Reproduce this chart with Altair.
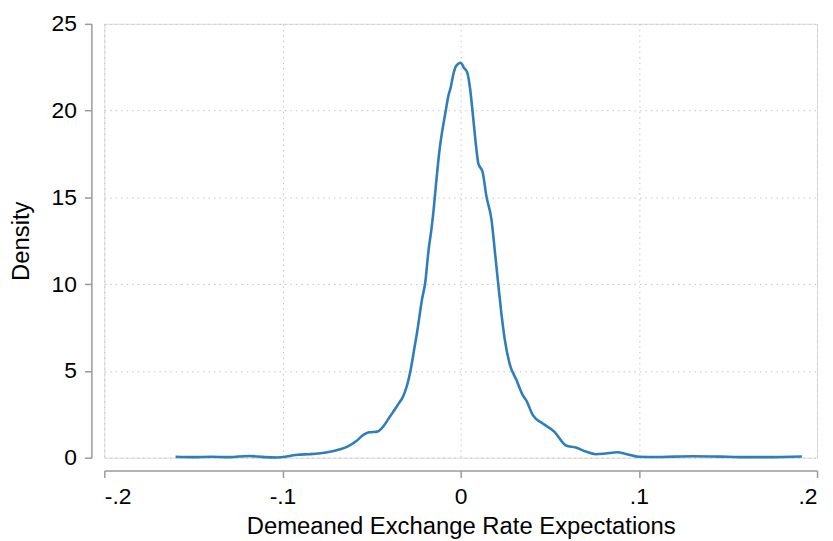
import altair as alt
import pandas as pd

# Kernel density of demeaned exchange rate expectations
x_vals = [-0.160, -0.150, -0.140, -0.130, -0.119, -0.110, -0.103, -0.097, -0.0914,
          -0.085, -0.0747, -0.0672, -0.0635, -0.0589, -0.0542, -0.0514, -0.0468,
          -0.044, -0.0394, -0.0357, -0.032, -0.030, -0.028, -0.026, -0.0245,
          -0.0217, -0.0199, -0.018, -0.0165, -0.0152, -0.0138, -0.0119, -0.0106,
          -0.0087, -0.0069, -0.0056, -0.0041, -0.0026, 0.0, 0.0018, 0.0037, 0.0052,
          0.007, 0.0089, 0.0099, 0.0123, 0.0145, 0.0173, 0.0191, 0.021, 0.0228,
          0.0247, 0.0275, 0.0312, 0.0349, 0.0368, 0.0405, 0.0461, 0.0525, 0.0591,
          0.0646, 0.0702, 0.0758, 0.0813, 0.0879, 0.0934, 0.100, 0.110, 0.120,
          0.130, 0.140, 0.150, 0.160, 0.170, 0.180, 0.1915]
density = [0.05, 0.03, 0.05, 0.03, 0.10, 0.03, 0.01, 0.08, 0.17,
           0.20, 0.31, 0.50, 0.64, 0.93, 1.34, 1.46, 1.50,
           1.73, 2.41, 2.98, 3.60, 4.20, 5.10, 6.30, 7.20,
           9.12, 10.08, 11.98, 13.10, 14.27, 15.80, 17.70, 18.66,
           19.80, 20.85, 21.33, 22.10, 22.57, 22.76, 22.47, 22.19, 21.33,
           19.61, 17.70, 16.95, 16.46, 15.03, 13.70, 11.98, 10.08, 8.36,
           6.84, 5.40, 4.50, 3.59, 3.30, 2.45, 1.97, 1.50, 0.70,
           0.58, 0.35, 0.20, 0.24, 0.31, 0.20, 0.05, 0.04, 0.06,
           0.08, 0.07, 0.05, 0.03, 0.03, 0.04, 0.07]

x_ticks = [-0.2, -0.1, 0.0, 0.1, 0.2]
x_tick_labels = ["-.2", "-.1", "0", ".1", ".2"]
y_ticks = [0, 5, 10, 15, 20, 25]

df = pd.DataFrame({"x": x_vals, "density": density})

FONT = "Liberation Sans"
AXIS_COLOR = "#9a9a9a"
GRID_COLOR = "#c4c4c4"

# map tick value (in tenths) to its Stata-style label
label_map = "{" + ", ".join(f"'{round(v * 10)}': '{l}'" for v, l in zip(x_ticks, x_tick_labels)) + "}"
x_label_expr = f"{label_map}[round(datum.value * 10)]"

x_axis = alt.Axis(
    values=x_ticks,
    labelExpr=x_label_expr,
    title="Demeaned Exchange Rate Expectations",
    offset=13, tickSize=7, labelPadding=8, titlePadding=6,
    domainColor=AXIS_COLOR, tickColor=AXIS_COLOR, domainWidth=1.5, tickWidth=1.5,
    grid=True, gridColor=GRID_COLOR, gridDash=[1.5, 4], gridWidth=1,
    labelFont=FONT, titleFont=FONT, labelFontSize=23, titleFontSize=24,
    titleFontWeight="normal", labelColor="black", titleColor="black",
)
y_axis = alt.Axis(
    values=y_ticks,
    title="Density",
    offset=13, tickSize=7, labelPadding=8, titlePadding=18,
    domainColor=AXIS_COLOR, tickColor=AXIS_COLOR, domainWidth=1.5, tickWidth=1.5,
    grid=True, gridColor=GRID_COLOR, gridDash=[1.5, 4], gridWidth=1,
    labelFont=FONT, titleFont=FONT, labelFontSize=23, titleFontSize=24,
    titleFontWeight="normal", labelColor="black", titleColor="black",
)

chart = (
    alt.Chart(df)
    .mark_line(color="#2e7ebc", strokeWidth=2.6, interpolate="monotone")
    .encode(
        x=alt.X("x:Q", scale=alt.Scale(domain=[-0.2, 0.2], nice=False, zero=False), axis=x_axis),
        y=alt.Y("density:Q", scale=alt.Scale(domain=[0, 25], nice=False), axis=y_axis),
    )
    .properties(
        width=718, height=437,
        padding={"left": 97, "top": 14, "right": 8, "bottom": 82},
        autosize=alt.AutoSizeParams(type="none"),
    )
    .configure_view(stroke=None)
    .configure(background="white")
)

chart.save("out.html", embed_options={"renderer": "svg", "actions": False})
